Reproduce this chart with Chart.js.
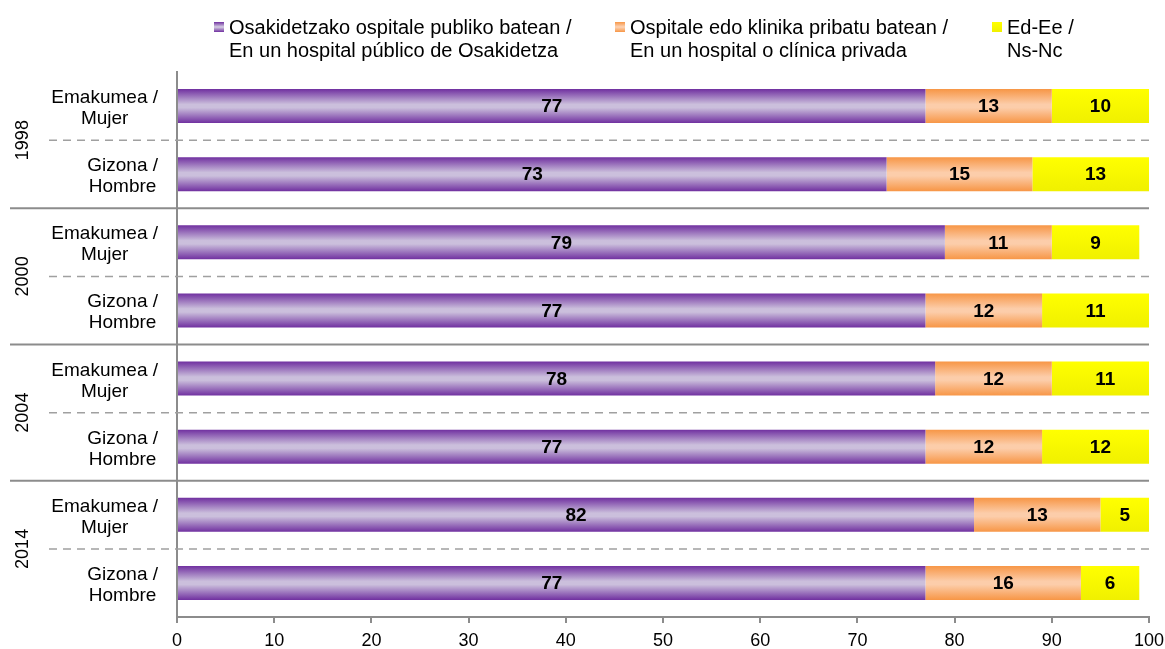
<!DOCTYPE html>
<html>
<head>
<meta charset="utf-8">
<script src="https://cdn.jsdelivr.net/npm/chart.js@4/dist/chart.umd.min.js"></script>
<style>
html, body { margin: 0; padding: 0; background: #fff; }
</style>
</head>
<body>
<canvas id="chart" width="1165" height="649"></canvas>
<script>
// Survey years, each one holds two rows (women / men)
const years = ["1998", "2000", "2004", "2014"];
const rowLabels = [
    ["Emakumea /", "Mujer"], ["Gizona /", "Hombre"],
    ["Emakumea /", "Mujer"], ["Gizona /", "Hombre"],
    ["Emakumea /", "Mujer"], ["Gizona /", "Hombre"],
    ["Emakumea /", "Mujer"], ["Gizona /", "Hombre"],
];
const publicValues = [77, 73, 79, 77, 78, 77, 82, 77];
const privateValues = [13, 15, 11, 12, 12, 12, 13, 16];
const unknownValues = [10, 13, 9, 11, 11, 12, 5, 6];
const seriesNames = [
    ["Osakidetzako ospitale publiko batean /", "En un hospital público de Osakidetza"],
    ["Ospitale edo klinika pribatu batean /", "En un hospital o clínica privada"],
    ["Ed-Ee /", "Ns-Nc"],
];
const xMin = 0, xMax = 100, xStep = 10;

const FONT = "'Liberation Sans', Arial, sans-serif";
const GREY = "#8c8c8c";

// edge / centre colours of the bar gradients
const palettes = [
    ["#7030a0", "#cbbfdc"],
    ["#f79646", "#fccdaa"],
    ["#ffff00", "#f0f000"],
];

function barGradient(ctx, top, bottom, pal, symmetric) {
    const g = ctx.createLinearGradient(0, top, 0, bottom);
    if (symmetric) {
        g.addColorStop(0, pal[0]);
        g.addColorStop(0.45, pal[1]);
        g.addColorStop(0.55, pal[1]);
        g.addColorStop(1, pal[0]);
    } else {
        g.addColorStop(0, pal[0]);
        g.addColorStop(1, pal[1]);
    }
    return g;
}

function fillFor(idx) {
    return (context) => {
        const chart = context.chart;
        const area = chart.chartArea;
        if (!area || context.dataIndex === undefined) return palettes[idx][0];
        const y = chart.scales.y;
        const row = (area.bottom - area.top) / rowLabels.length;
        const c = y.getPixelForValue(context.dataIndex);
        const h = row * 0.5;
        return barGradient(chart.ctx, c - h / 2, c + h / 2, palettes[idx], idx !== 2);
    };
}

// separators, row and year labels, value labels and legend
const groupLines = {
    id: "groupLines",
    beforeDatasetsDraw(chart) {
        const { ctx, chartArea, scales } = chart;
        const y = scales.y;
        ctx.save();
        for (let i = 1; i < rowLabels.length; i++) {
            const yy = (y.getPixelForValue(i - 1) + y.getPixelForValue(i)) / 2;
            ctx.beginPath();
            if (i % 2 === 0) {
                ctx.setLineDash([]);
                ctx.strokeStyle = GREY;
                ctx.lineWidth = 2;
                ctx.moveTo(10, yy);
            } else {
                ctx.setLineDash([8, 6]);
                ctx.strokeStyle = "#a0a0a0";
                ctx.lineWidth = 1.5;
                ctx.moveTo(49, yy);
            }
            ctx.lineTo(chartArea.right, yy);
            ctx.stroke();
        }
        ctx.setLineDash([]);
        ctx.fillStyle = "#000";

        // row labels: block right-aligned, lines centred inside it
        ctx.font = "19px " + FONT;
        ctx.textAlign = "center";
        ctx.textBaseline = "alphabetic";
        rowLabels.forEach((lines, i) => {
            const cy = y.getPixelForValue(i);
            const w = Math.max(...lines.map((t) => ctx.measureText(t).width));
            const cx = 158 - w / 2;
            ctx.fillText(lines[0], cx, cy - 3);
            ctx.fillText(lines[1], cx, cy + 18);
        });

        ctx.font = "18px " + FONT;
        years.forEach((yr, g) => {
            const cy = (y.getPixelForValue(g * 2) + y.getPixelForValue(g * 2 + 1)) / 2;
            ctx.save();
            ctx.translate(28, cy);
            ctx.rotate(-Math.PI / 2);
            ctx.fillText(yr, 0, 0);
            ctx.restore();
        });
        ctx.restore();
    },
    afterDatasetsDraw(chart) {
        const { ctx } = chart;
        ctx.save();
        ctx.fillStyle = "#000";
        ctx.font = "bold 19px " + FONT;
        ctx.textAlign = "center";
        ctx.textBaseline = "middle";
        chart.data.datasets.forEach((ds, di) => {
            const meta = chart.getDatasetMeta(di);
            meta.data.forEach((bar, i) => {
                const cx = (bar.x + bar.base) / 2;
                ctx.fillText(String(ds.data[i]), cx, bar.y + 1);
            });
        });
        ctx.restore();
    },
    afterDraw(chart) {
        // legend with two-line entries
        const { ctx } = chart;
        const xs = [214, 615, 992];
        ctx.save();
        ctx.font = "20px " + FONT;
        ctx.textBaseline = "alphabetic";
        ctx.textAlign = "left";
        seriesNames.forEach((lines, i) => {
            ctx.fillStyle = barGradient(ctx, 22, 32, palettes[i], i !== 2);
            ctx.fillRect(xs[i], 22, 10, 10);
            ctx.fillStyle = "#000";
            lines.forEach((t, k) => ctx.fillText(t, xs[i] + 15, 34 + k * 23));
        });
        ctx.restore();
    },
};

const chart = new Chart(document.getElementById("chart"), {
    type: "bar",
    data: {
        labels: rowLabels,
        datasets: [
            { label: seriesNames[0].join(" "), data: publicValues, backgroundColor: fillFor(0) },
            { label: seriesNames[1].join(" "), data: privateValues, backgroundColor: fillFor(1) },
            { label: seriesNames[2].join(" "), data: unknownValues, backgroundColor: fillFor(2) },
        ],
    },
    options: {
        responsive: false,
        animation: false,
        indexAxis: "y",
        barPercentage: 0.5,
        categoryPercentage: 1,
        layout: { padding: { top: 72, right: 16, left: 0, bottom: 0 } },
        plugins: {
            legend: { display: false },
            tooltip: { enabled: false },
        },
        scales: {
            x: {
                stacked: true,
                min: xMin,
                max: xMax,
                ticks: {
                    stepSize: xStep,
                    color: "#000",
                    font: { family: FONT, size: 18 },
                    padding: 7,
                },
                grid: {
                    drawOnChartArea: false,
                    drawTicks: true,
                    tickLength: 6,
                    color: GREY,
                    lineWidth: 2,
                },
                border: { color: GREY, width: 2 },
                afterFit: (scale) => {
                    scale.height = 32;
                    scale.paddingLeft = 0;
                    scale.paddingRight = 0;
                },
            },
            y: {
                stacked: true,
                ticks: { display: false },
                grid: { display: false },
                border: { color: GREY, width: 2 },
                afterFit: (scale) => { scale.width = 177; },
            },
        },
    },
    plugins: [groupLines],
});
</script>
</body>
</html>
